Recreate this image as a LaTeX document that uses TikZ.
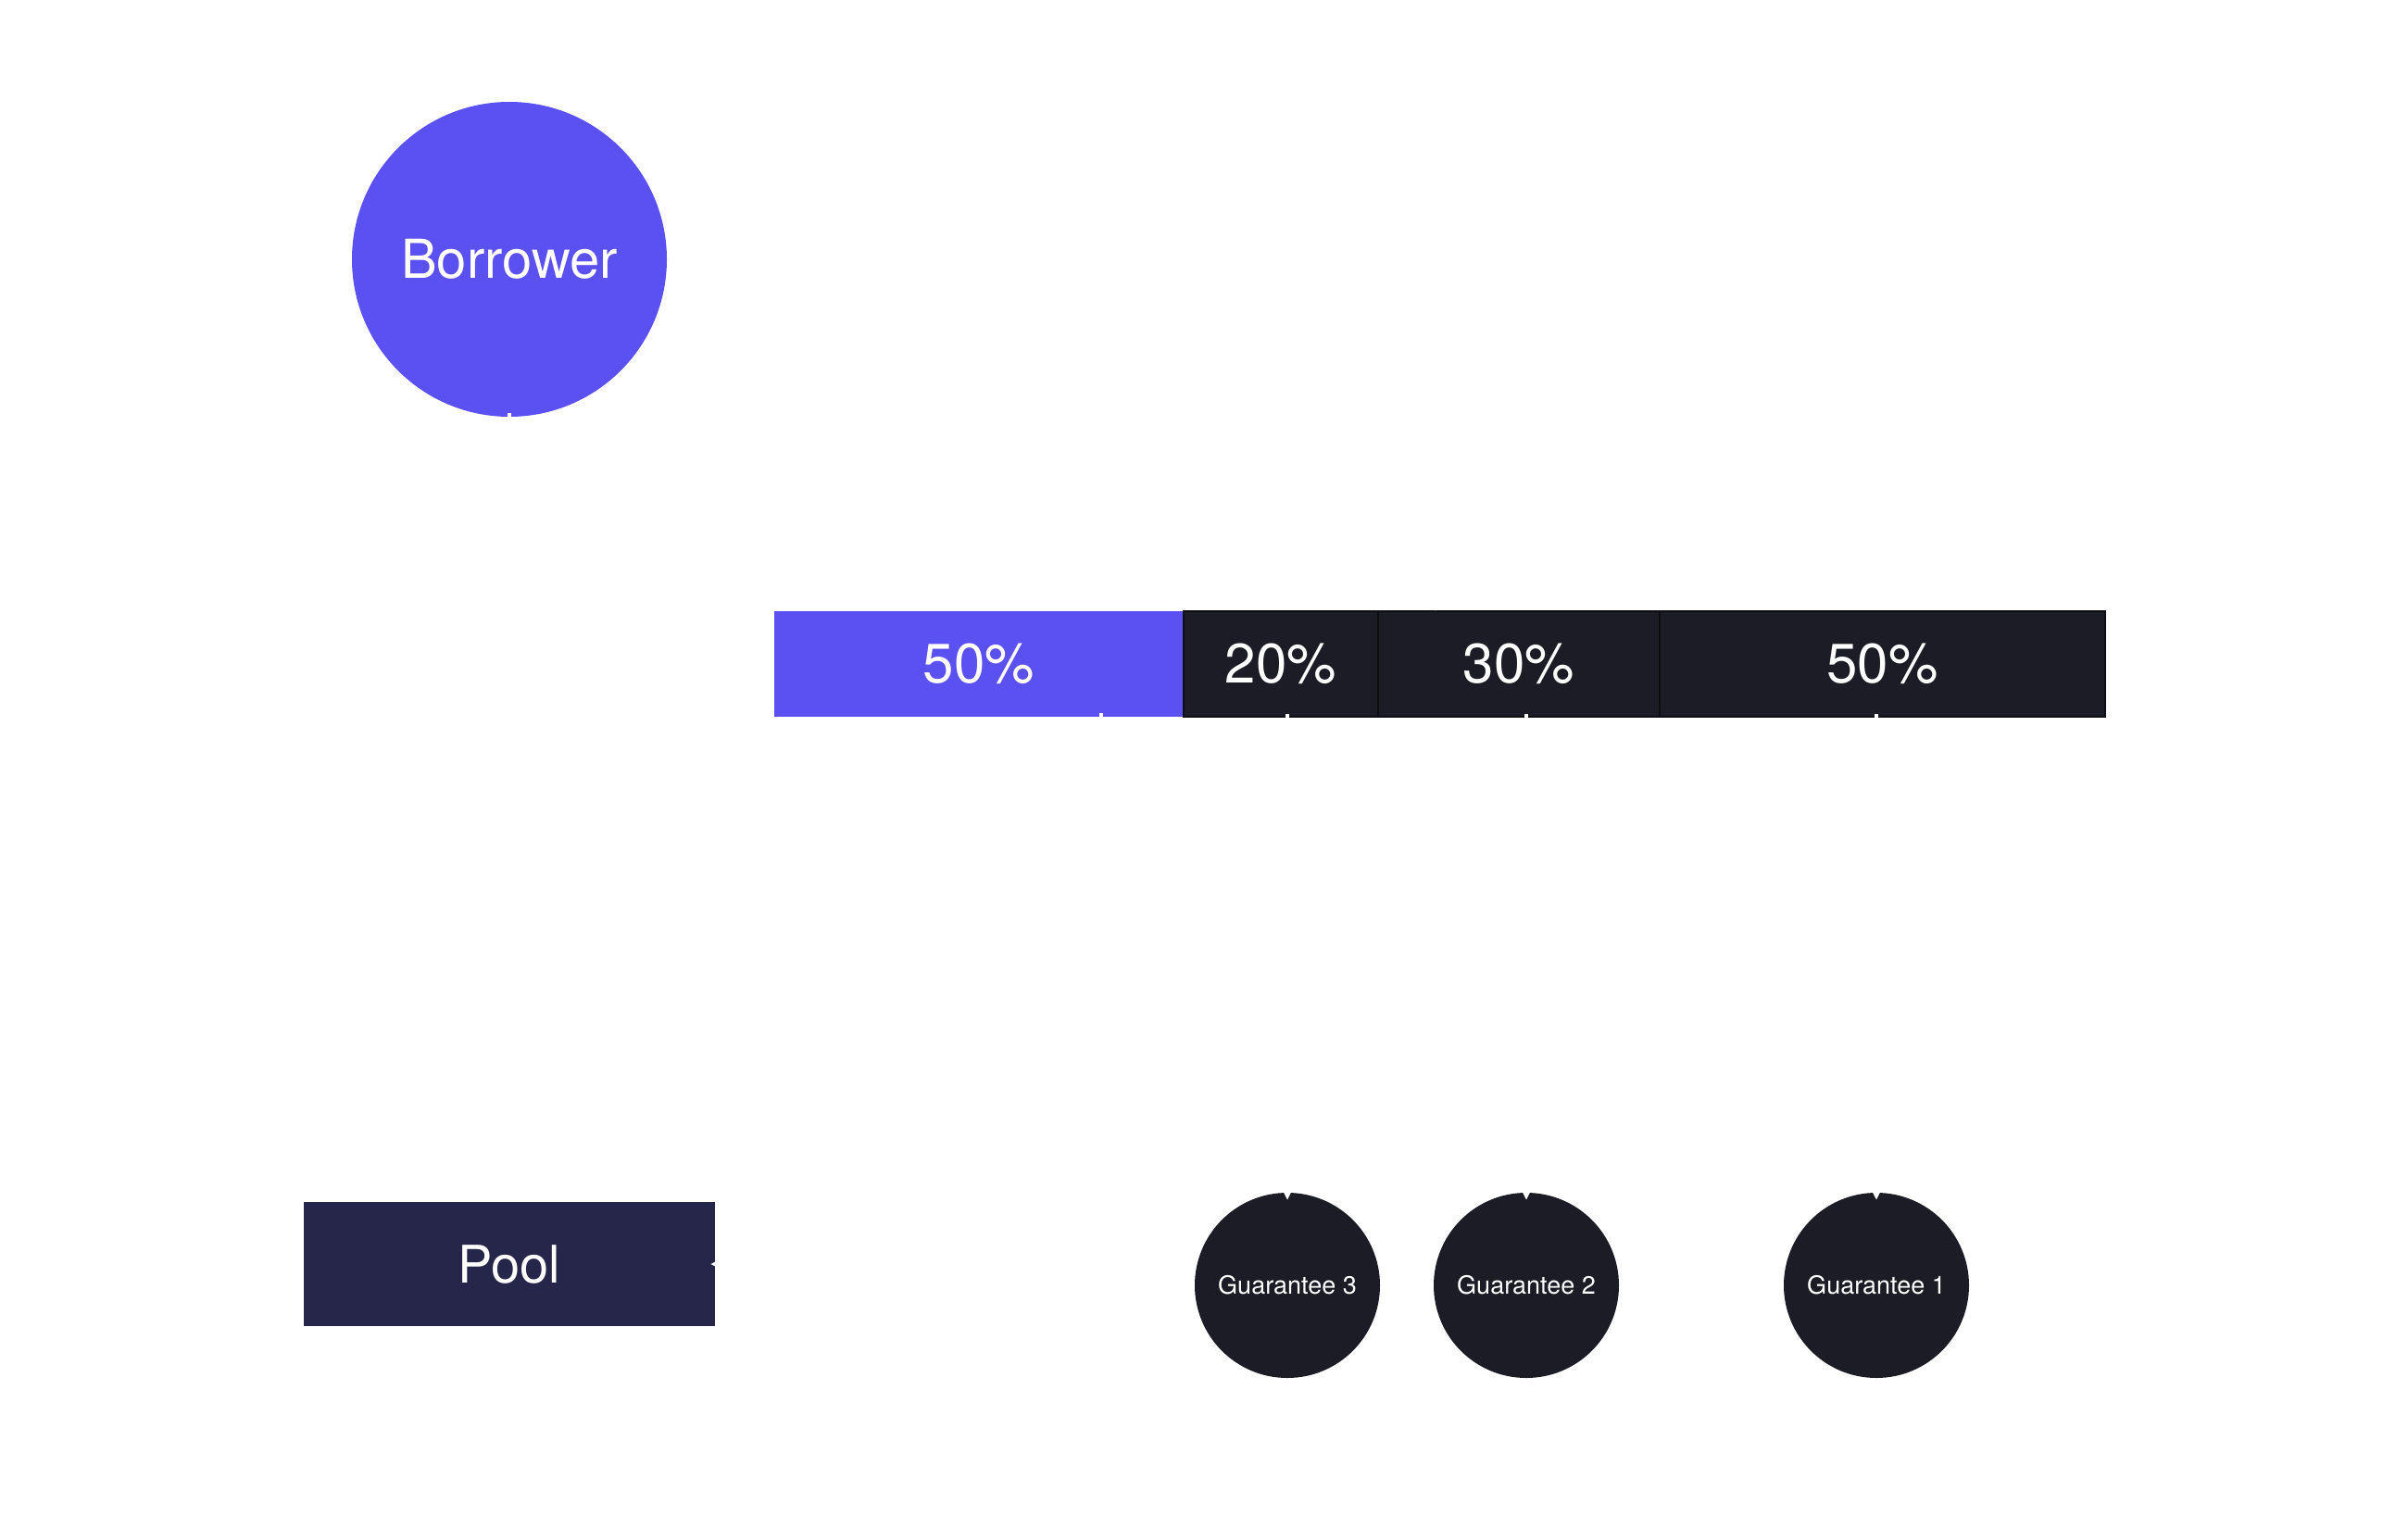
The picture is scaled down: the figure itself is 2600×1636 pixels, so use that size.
\documentclass[tikz,border=0pt]{standalone}
\usepackage{fontspec}
\setmainfont{TeX Gyre Heros}
\usetikzlibrary{arrows.meta}
\definecolor{bblue}{HTML}{5B50F2}
\definecolor{darkc}{HTML}{1C1C26}
\definecolor{darkl}{HTML}{0D0D12}
\definecolor{poolc}{HTML}{25264A}
\begin{document}
\begin{tikzpicture}[x=1pt,y=-1pt,
  circ/.style={circle, inner sep=0pt, text=white},
  cellbox/.style={rectangle, inner sep=0pt, text=white, minimum height=114pt, font=\fontsize{60}{62}\selectfont},
  darkcell/.style={cellbox, fill=darkc, draw=darkl, line width=2pt},
  guar/.style={circ, fill=darkc, minimum size=200pt, font=\fontsize{27}{29}\selectfont},
  conn/.style={draw=white, line width=4pt, -{Triangle[length=12pt,width=11pt]}}]
\fill[white] (0,0) rectangle (2600,1636);
\useasboundingbox (0,0) rectangle (2600,1636);

% nodes
\node[circ, fill=bblue, minimum size=340pt, font=\fontsize{58}{60}\selectfont] (borrower) at (550,280) {Borrower};

\node[cellbox, fill=bblue, minimum width=442pt] (c50a) at (1057,717) {50\%};
\node[darkcell, minimum width=210pt] (c20) at (1383,717) {20\%};
\node[darkcell, minimum width=304pt] (c30) at (1640,717) {30\%};
\node[darkcell, minimum width=481pt] (c50b) at (2032.5,717) {50\%};

\node[rectangle, fill=poolc, text=white, inner sep=0pt, minimum width=444pt, minimum height=134pt, font=\fontsize{56}{58}\selectfont] (pool) at (550,1365) {Pool};

\node[guar] (g3) at (1390,1388) {Guarantee 3};
\node[guar] (g2) at (1648,1388) {Guarantee 2};
\node[guar] (g1) at (2026,1388) {Guarantee 1};

% connectors (white)
\coordinate (tapA) at (1189,774);
\coordinate (btop) at (1550,660);
\draw[conn, shorten <=-4pt] (borrower.south) -- ++(0,105) -| (btop);
\draw[conn, shorten <=-4pt, shorten >=-5pt] (tapA) |- (pool.east);
\draw[conn, shorten <=-4pt, shorten >=-8pt] (g3.north |- c20.south) -- (g3.north);
\draw[conn, shorten <=-4pt, shorten >=-8pt] (g2.north |- c30.south) -- (g2.north);
\draw[conn, shorten <=-4pt, shorten >=-8pt] (g1.north |- c50b.south) -- (g1.north);
\end{tikzpicture}
\end{document}
